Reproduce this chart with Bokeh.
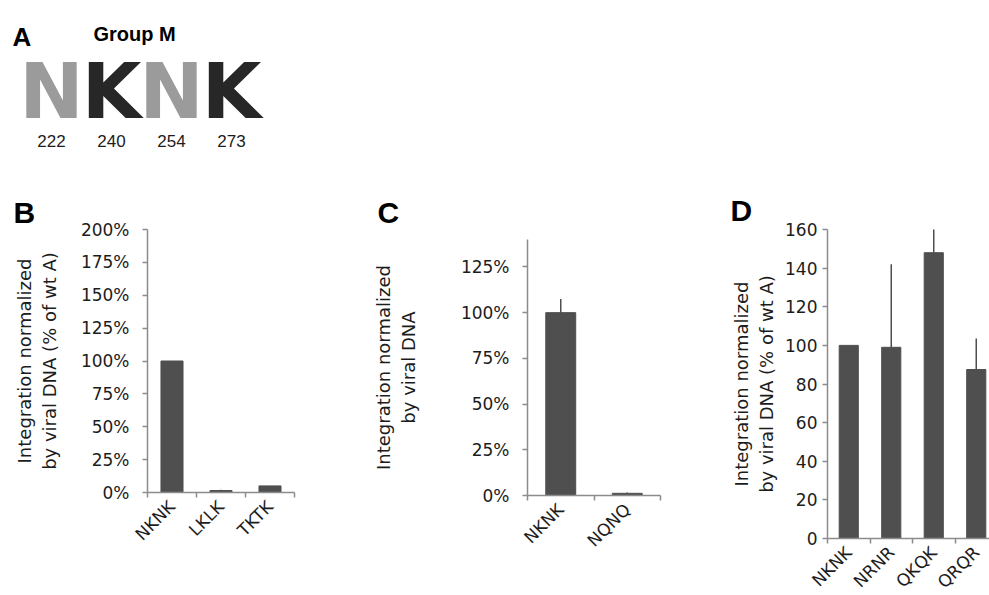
import math
from bokeh.plotting import figure
from bokeh.models import (Range1d, FixedTicker, Label, ColumnDataSource,
                          PrintfTickFormatter, LinearAxis)
from bokeh.embed import file_html
from bokeh.resources import INLINE
from bokeh.core.properties import value

# ---------------- data ----------------
logo_letters = ["N", "K", "N", "K"]
logo_positions = ["222", "240", "254", "273"]
logo_colors = ["#9b9b9b", "#272727", "#9b9b9b", "#272727"]

b_cats = ["NKNK", "LKLK", "TKTK"]
b_vals = [100, 1.5, 5]
b_errs = [0, 0.6, 0]
b_ticks = [0, 25, 50, 75, 100, 125, 150, 175, 200]

c_cats = ["NKNK", "NQNQ"]
c_vals = [100, 1.2]
c_errs = [7.5, 0.4]
c_ticks = [0, 25, 50, 75, 100, 125]

d_cats = ["NKNK", "NRNR", "QKQK", "QRQR"]
d_vals = [100, 99, 148, 87.5]
d_errs = [0, 43, 12, 16]
d_ticks = [0, 20, 40, 60, 80, 100, 120, 140, 160]

# ---------------- styling / layout ----------------
BAR = "#4f4f4f"
AXIS = "#8c8c8c"
TXT = "#1c1c1c"
TICK_FONT = "DejaVu Sans"
BOLD_FONT = "Liberation Sans"
W, H = 989, 595          # canvas size
OX, OY = 0, 595          # picture position of the canvas bottom-left corner


def xr(p0, v0, p1, v1):
    """x range so that value v0 sits at picture x p0 and v1 at p1"""
    u = (v1 - v0) / (p1 - p0)
    s = v0 - (p0 - OX) * u
    return Range1d(s, s + W * u)


def yr(p0, v0, p1, v1):
    """y range so that value v0 sits at picture y p0 and v1 at p1"""
    u = (v1 - v0) / (p0 - p1)
    s = v0 - (OY - p0) * u
    return Range1d(s, s + H * u)


p = figure(width=W, height=H, output_backend="svg", toolbar_location=None,
           x_range=Range1d(0, W), y_range=Range1d(0, H),
           x_axis_type=None, y_axis_type=None, min_border=0)
p.outline_line_color = None
p.grid.visible = False

p.extra_x_ranges = {
    "logo": xr(51, 0, 111, 1),
    "bx": xr(147, 0, 294, 3),
    "cx": xr(527, 0, 660, 2),
    "dx": xr(827, 0, 869.5, 1),
}
p.extra_y_ranges = {
    "by": yr(492, 0, 229, 200),
    "cy": yr(495, 0, 239, 140),
    "dy": yr(538, 0, 229, 160),
}


def panel(cats, vals, errs, ticks, ymax, fmt, ylabel, xn, yn,
          tick_standoff, label_standoff):
    xs = [i + 0.5 for i in range(len(cats))]
    src = ColumnDataSource(dict(x=xs, top=vals))
    p.vbar(x="x", top="top", bottom=0, width=0.45, source=src,
           fill_color=BAR, line_color=BAR, x_range_name=xn, y_range_name=yn)
    ex = [x for x, e in zip(xs, errs) if e > 0]
    ey0 = [v for v, e in zip(vals, errs) if e > 0]
    ey1 = [v + e for v, e in zip(vals, errs) if e > 0]
    p.segment(x0=ex, y0=ey0, x1=ex, y1=ey1, line_color=BAR, line_width=1.5,
              x_range_name=xn, y_range_name=yn)

    xa = LinearAxis(x_range_name=xn, y_range_name=yn, fixed_location=0,
                    bounds=(0, len(cats)),
                    ticker=FixedTicker(ticks=xs, minor_ticks=list(range(len(cats) + 1))))
    xa.major_label_overrides = {x: c for x, c in zip(xs, cats)}
    xa.major_tick_out = 0
    xa.major_tick_in = 0
    xa.minor_tick_out = 5
    xa.minor_tick_in = 0
    xa.minor_tick_line_color = AXIS
    xa.minor_tick_line_width = 1.5
    xa.axis_line_color = AXIS
    xa.axis_line_width = 1.5
    xa.major_label_orientation = math.pi / 4
    xa.major_label_standoff = 6
    xa.major_label_text_font = TICK_FONT
    xa.major_label_text_font_size = "17px"
    xa.major_label_text_color = TXT
    p.add_layout(xa, "below")

    ya = LinearAxis(x_range_name=xn, y_range_name=yn, fixed_location=0,
                    bounds=(0, ymax), ticker=FixedTicker(ticks=ticks),
                    formatter=PrintfTickFormatter(format=fmt))
    ya.minor_tick_line_color = None
    ya.major_tick_out = 5
    ya.major_tick_in = 0
    ya.major_tick_line_color = AXIS
    ya.major_tick_line_width = 1.5
    ya.axis_line_color = AXIS
    ya.axis_line_width = 1.5
    ya.major_label_standoff = tick_standoff
    ya.major_label_text_font = TICK_FONT
    ya.major_label_text_font_size = "17px"
    ya.major_label_text_color = TXT
    ya.axis_label = ylabel
    ya.axis_label_text_font = TICK_FONT
    ya.axis_label_text_font_size = "18px"
    ya.axis_label_text_font_style = "normal"
    ya.axis_label_text_color = TXT
    ya.axis_label_text_line_height = 1.17
    ya.axis_label_standoff = label_standoff
    p.add_layout(ya, "left")


panel(b_cats, b_vals, b_errs, b_ticks, 200, "%d%%",
      "Integration normalized\nby viral DNA (% of wt A)", "bx", "by", 13, 18)
panel(c_cats, c_vals, c_errs, c_ticks, 140, "%d%%",
      "Integration normalized\nby viral DNA", "cx", "cy", 13, 39)
panel(d_cats, d_vals, d_errs, d_ticks, 160, "%d",
      "Integration normalized\nby viral DNA (% of wt A)", "dx", "dy", 5, 5)

# ---------------- panel A : sequence logo ----------------
n = len(logo_letters)
logo_src = ColumnDataSource(dict(x=list(range(n)), letter=logo_letters,
                                 pos=logo_positions, color=logo_colors,
                                 y=[OY - 90.5] * n, ny=[OY - 140] * n))
p.text(x="x", y="y", text="letter", source=logo_src, text_color="color",
       text_font=value("DejaVu Sans"), text_font_style="bold", text_font_size="77px",
       text_align="center", text_baseline="middle", x_range_name="logo")
p.text(x="x", y="ny", text="pos", source=logo_src, text_color=TXT,
       text_font=value("Liberation Sans"), text_font_size="17px",
       text_align="center", text_baseline="middle", x_range_name="logo")


def tag(text, left, base, size):
    p.add_layout(Label(x=left - OX, y=OY - base, text=text, text_font=BOLD_FONT,
                       text_font_style="bold", text_font_size=size,
                       text_color="black", text_baseline="alphabetic"))


tag("A", 12, 36, "26px")
tag("Group M", 93, 33, "20px")
tag("B", 13, 212, "30px")
tag("C", 377, 212, "30px")
tag("D", 730, 210, "30px")

open("out.html", "w").write(file_html(p, INLINE))
